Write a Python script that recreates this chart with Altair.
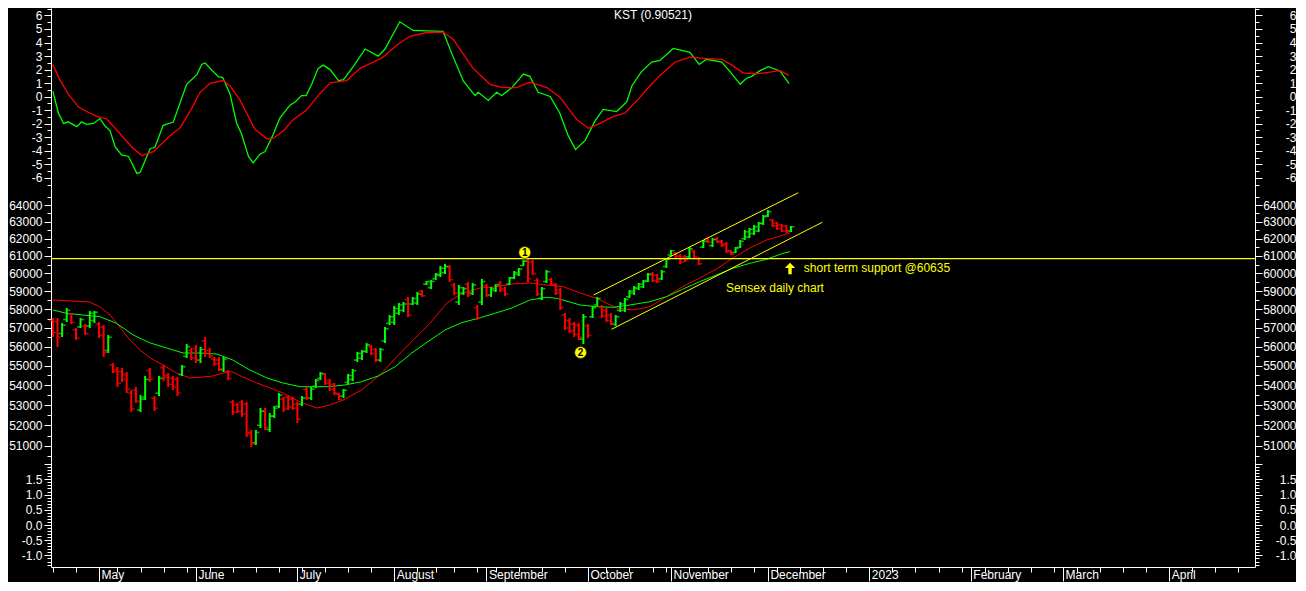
import altair as alt
import pandas as pd

# ------------------------------------------------------------------
# Data
# x = trading-day index (0 = 18 Apr 2022, 160 = 8 Dec 2022)
# ------------------------------------------------------------------
bar_open = [57400, 57350, 56700, 57450, 57750, 56900, 57050, 57100, 57100, 57400,
            57200, 57050, 55800, 55050, 54800, 54700, 54550, 53600, 53750, 52750,
            53400, 54750, 53350, 53600, 54900, 54500, 54350, 54300, 54550, 55500,
            55800, 55900, 55300, 56300, 55800, 55350, 55300, 54800, 54700, 53150,
            53000, 53150, 53050, 51650, 51150, 52000, 52700, 51800, 52450, 52950,
            53300, 53400, 53300, 53050, 53050, 53800, 53350, 53950, 54350, 54550,
            54250, 54050, 53550, 53450, 54150, 54300, 55300, 55400, 55750, 56000,
            55850, 55300, 56300, 57250, 57300, 57800, 57950, 58550, 58300, 58350,
            59000, 59400, 59200, 59700, 59900, 60050, 60350, 59350, 58400, 58900,
            59400, 58900, 58100, 58400, 59300, 58800, 59050, 59450, 59150, 59400,
            59750, 59950, 60450, 60700, 60650, 59600, 58600, 59550, 59650, 59350,
            59050, 57700, 57400, 57200, 57150, 56400, 57100, 57600, 58250, 58150,
            57950, 57700, 57200, 57950, 57950, 58700, 58900, 59150, 59250, 59600,
            59950, 59900, 59700, 60400, 61050, 61150, 61000, 60950, 60950, 61250,
            60850, 61500, 62000, 61600, 62000, 61850, 61700, 61300, 61200, 61500,
            62000, 62100, 62300, 62450, 62900, 63350, 63100, 62900, 62800, 62750,
            62450]
bar_high = [57535, 57535, 57264, 58080, 57806, 56995, 57535, 57210, 57915, 57915,
            57319, 57157, 56620, 55146, 54939, 54886, 54680, 53760, 53913, 53508,
            54474, 54886, 53457, 54474, 55042, 54628, 54474, 54423, 55042, 56142,
            55930, 56089, 55984, 56514, 55930, 55459, 55459, 55459, 54783, 53256,
            53106, 53256, 53156, 51772, 51772, 52856, 52856, 52608, 52956, 53609,
            53407, 53508, 53407, 53156, 53450, 53913, 53913, 54320, 54680, 54628,
            54320, 54116, 53609, 53811, 54577, 54835, 55721, 55826, 56195, 56089,
            55930, 55930, 57049, 57698, 58189, 58354, 58409, 58685, 58685, 58962,
            59073, 59577, 59633, 60028, 60425, 60538, 60482, 59464, 59352, 59241,
            59521, 59464, 58244, 59689, 59408, 59241, 59408, 59577, 59241, 59802,
            60141, 60311, 60767, 60824, 60767, 59746, 59241, 60197, 59746, 59464,
            59185, 57806, 57535, 57319, 57264, 57752, 57210, 58189, 58685, 58244,
            58080, 57806, 57698, 58409, 58630, 59073, 59297, 59464, 59633, 60028,
            60084, 59971, 60197, 60881, 61343, 61227, 61112, 61054, 61517, 61343,
            60940, 61923, 62040, 62040, 62099, 61923, 61807, 61343, 61517, 61923,
            62510, 62628, 62805, 62983, 63400, 63699, 63161, 62983, 62864, 62805,
            62746]
bar_low = [56514, 55984, 56514, 57319, 57210, 56354, 56995, 56620, 56995, 57264,
           56460, 55459, 55667, 54628, 53913, 54168, 53609, 52657, 53106, 52657,
           53256, 54168, 52707, 53457, 54218, 53913, 53760, 53457, 54474, 55406,
           55302, 55146, 55146, 55459, 55406, 54990, 54731, 54680, 54269, 52509,
           52608, 52410, 51431, 50949, 51045, 51870, 51772, 51674, 52360, 52856,
           52657, 52757, 52757, 52114, 52950, 53256, 53256, 53862, 54269, 54014,
           53710, 53508, 53256, 53357, 54065, 54218, 55198, 55302, 55667, 55563,
           55198, 55198, 56195, 57157, 57157, 57698, 57861, 57589, 58244, 58244,
           58685, 59352, 59129, 59633, 59802, 59971, 59521, 58796, 58244, 58796,
           58685, 58796, 57426, 58244, 58685, 58685, 58962, 58962, 58741, 59352,
           59689, 59858, 60425, 59521, 59914, 58741, 58519, 59464, 59352, 58796,
           57970, 56888, 56727, 56514, 56354, 56142, 56460, 57535, 58189, 57535,
           57319, 57157, 57103, 57861, 57861, 58630, 58796, 59073, 59185, 59521,
           59521, 59464, 59633, 60311, 60997, 60881, 60538, 60653, 60881, 60881,
           60482, 61459, 61749, 61517, 61749, 61517, 61169, 61054, 61169, 61459,
           61923, 62040, 62216, 62392, 62805, 63280, 62687, 62510, 62392, 62333,
           62392]
bar_close = [56750, 56500, 57150, 57950, 57300, 56450, 57450, 56700, 57800, 57850,
             56600, 55700, 56500, 54700, 54100, 54300, 53800, 52800, 53200, 53300,
             54300, 54300, 52850, 54350, 54400, 54050, 53900, 53600, 54950, 56000,
             55400, 55300, 55850, 55650, 55500, 55100, 54850, 55350, 54350, 52650,
             52700, 52550, 51600, 51100, 51650, 52700, 51900, 52450, 52850, 53500,
             52800, 52900, 52850, 52300, 53350, 53350, 53800, 54250, 54600, 54100,
             53800, 53600, 53300, 53750, 54500, 54750, 55650, 55750, 56100, 55650,
             55300, 55850, 56950, 57600, 58050, 58250, 58300, 57700, 58600, 58850,
             58750, 59550, 59550, 59950, 60300, 60400, 59650, 58900, 59200, 59150,
             58800, 59350, 57550, 59550, 58800, 59150, 59350, 59050, 58850, 59750,
             60050, 60250, 60700, 59700, 60000, 58850, 59150, 60100, 59400, 58900,
             58100, 57000, 56850, 56650, 56500, 57600, 56600, 58100, 58600, 57650,
             57400, 57250, 57600, 58300, 58550, 59000, 59200, 59400, 59550, 59950,
             59600, 59550, 60100, 60800, 61300, 60950, 60650, 60750, 61400, 60950,
             60550, 61850, 61800, 61950, 61800, 61600, 61250, 61100, 61450, 61850,
             62400, 62550, 62700, 62900, 63300, 63600, 62750, 62600, 62450, 62400,
             62700]

# fast moving average (red) and slow moving average (green)
ma_fast_idx = [0, 8.0, 10.2, 12.4, 13.8, 16.7, 18.9, 21.1, 23.9, 26.8,
               29.7, 32.5, 34.7, 36.9, 38.8, 41.2, 44.2, 47.1, 49.9, 53.6,
               57.2, 60.1, 62.9, 66.9, 70.9, 74.5, 78.1, 81.8, 85.4, 88.9,
               92.6, 96.2, 99.7, 103.4, 107.1, 110.6, 114.3, 118.2, 122.2, 125.8,
               129.4, 133.0, 136.5, 140.2, 143.9, 147.4, 151.1, 154.7, 158.3, 159.8]
ma_fast = [58519, 58409, 58135, 57698, 57264, 56354, 55826, 55406, 55042, 54628,
           54372, 54423, 54474, 54628, 54696, 54423, 54116, 53862, 53609, 53156,
           52856, 53006, 53256, 53760, 54526, 55459, 56354, 57264, 58354, 58907,
           59185, 59258, 59408, 59464, 59352, 59258, 58907, 58574, 58080, 57970,
           58152, 58702, 59258, 59745, 60254, 60881, 61459, 61923, 62216, 62333]
ma_slow_idx = [0, 3.0, 6.5, 10.2, 13.8, 17.4, 21.1, 24.7, 28.2, 31.9,
               35.5, 39.0, 42.7, 46.4, 49.9, 53.6, 59.6, 63.3, 66.9, 70.5,
               74.2, 77.8, 81.3, 85.0, 88.6, 92.2, 95.8, 99.5, 103.4, 107.1,
               109.2, 114.3, 117.9, 121.4, 125.1, 129.4, 133.0, 136.5, 140.2, 143.9,
               147.4, 151.1, 154.7, 158.3, 159.8]
ma_slow = [57970, 57790, 57698, 57606, 57248, 56620, 56195, 55930, 55667, 55667,
           55615, 55302, 54783, 54372, 54116, 53928, 53928, 54014, 54181, 54474,
           54954, 55667, 56264, 56888, 57280, 57519, 57790, 58080, 58519, 58668,
           58613, 58244, 58152, 58118, 58244, 58425, 58702, 59112, 59538, 59914,
           60292, 60577, 60806, 61152, 61244]

# KST (green) and its signal line (red)
kst_idx = [0, 1.2, 2.3, 3.3, 5.2, 6.2, 7.3, 8.8, 10.2, 11.3,
           12.4, 13.5, 14.9, 16.4, 18.2, 18.9, 21.1, 22.1, 23.9, 26.1,
           29.0, 31.2, 32.3, 33.0, 35.9, 36.8, 38.4, 39.8, 40.9, 42.4,
           43.4, 44.9, 46.0, 47.8, 49.2, 51.4, 52.5, 53.9, 54.9, 56.1,
           57.5, 58.6, 60.1, 61.9, 63.0, 65.1, 67.7, 70.5, 72.0, 75.2,
           78.1, 81.0, 84.6, 86.5, 89.0, 91.5, 92.2, 94.4, 96.2, 97.3,
           99.5, 102.0, 103.4, 105.2, 107.8, 109.9, 111.7, 113.3, 115.4, 117.5,
           119.3, 122.2, 124.4, 125.5, 127.6, 129.8, 131.6, 134.5, 138.1, 140.1,
           141.7, 145.0, 146.8, 149.0, 150.3, 151.5, 153.3, 155.1, 157.6, 159.6]
kst = [0.39, -1.22, -1.98, -1.86, -2.22, -1.86, -2.05, -1.98, -1.62, -2.17,
       -2.52, -3.71, -4.30, -4.42, -5.67, -5.60, -3.83, -3.76, -2.12, -1.88,
       0.91, 1.62, 2.40, 2.49, 1.46, 1.43, 0.20, -1.93, -2.76, -4.42,
       -4.89, -4.25, -4.06, -2.76, -1.58, -0.63, -0.39, 0.08, 0.08, 0.91,
       2.09, 2.33, 2.00, 1.19, 1.26, 2.21, 3.52, 2.99, 3.52, 5.53,
       4.89, 4.86, 4.82, 3.16, 1.14, 0.08, 0.32, -0.28, 0.32, 0.08,
       0.67, 1.67, 1.50, 0.32, 0.01, -1.22, -2.88, -3.90, -3.23, -1.81,
       -0.94, -1.10, -0.39, 0.79, 1.85, 2.56, 2.68, 3.56, 3.27, 2.38,
       2.76, 2.56, 1.85, 0.91, 1.34, 1.50, 1.92, 2.21, 1.90, 0.96]
kst_sig_idx = [0, 1.5, 3.3, 5.5, 7.3, 9.5, 11.7, 14.6, 17.4, 19.3,
               21.8, 25.4, 27.6, 30.1, 31.9, 34.1, 36.9, 38.4, 40.6, 43.8,
               46.4, 47.8, 50.0, 52.1, 55.0, 57.5, 60.1, 63.7, 66.6, 69.5,
               71.6, 74.5, 77.4, 81.0, 84.6, 86.8, 91.1, 94.8, 97.6, 100.5,
               103.4, 107.1, 109.9, 113.6, 116.1, 118.6, 121.5, 124.0, 127.3, 129.4,
               131.6, 134.9, 138.1, 141.7, 145.0, 147.2, 149.7, 152.6, 154.7, 157.6,
               159.6]
kst_sig = [2.38, 1.26, 0.20, -0.75, -1.10, -1.46, -1.65, -2.76, -3.83, -4.35,
           -4.06, -2.88, -2.29, -0.87, 0.32, 0.98, 1.19, 0.79, -0.28, -2.41,
           -3.12, -3.07, -2.52, -1.70, -0.99, 0.08, 1.02, 1.19, 2.09, 2.56,
           2.92, 3.80, 4.46, 4.74, 4.77, 4.23, 2.09, 0.91, 0.67, 0.67,
           1.07, 0.67, -0.04, -1.70, -2.34, -1.98, -1.46, -1.22, -0.04, 0.79,
           1.57, 2.56, 2.92, 2.81, 2.76, 2.33, 1.74, 1.69, 1.78, 1.92,
           1.57]

# annotations
support_level = [60850]
chan_upper_idx = [117.2, 161.6]
chan_upper = [58795, 64746]
chan_lower_idx = [121.1, 166.8]
chan_lower = [56925, 62965]
wave_idx = [102.3, 114.4]
wave_price = [61197, 55694]
wave_label = ["1", "2"]
arrow_idx = [159.8]
arrow_price = [60279]
note_idx = [162.8, 145.9]
note_price = [60311, 59185]
note_text = ["short term support @60635", "Sensex daily chart"]
kst_title = ["KST (0.90521)"]

# time axis
month_idx = [10, 31, 53, 74, 94, 116, 134, 155, 177, 199, 219, 242]
month_lbl = ["May", "June", "July", "August", "September", "October",
             "November", "December", "2023", "February", "March", "April"]
week_idx = [0, 5, 14, 19, 24, 29, 34, 39, 44, 49, 54, 59, 64, 69, 79, 83, 87,
            92, 96, 101, 106, 111, 120, 125, 130, 133, 138, 142, 147, 152, 157,
            162, 167, 172, 182, 187, 192, 197, 202, 207, 212, 217, 222, 227,
            232, 237, 247, 252, 257]

# axis tick values
price_ticks = list(range(50500, 65000, 500))
kst_ticks = [k / 2 for k in range(-13, 14)]
low_ticks = [round(-1.3 + 0.1 * k, 1) for k in range(34)]

# ------------------------------------------------------------------
FONT = "Liberation Sans"
WHITE = "#ffffff"
GREEN = "#00ff00"
RED = "#ff0000"
YELLOW = "#ffff00"

W = 1204
H_KST, H_PRICE, H_LOW = 180, 274, 105
xs = alt.Scale(domain=[-0.41, 260.6], nice=False, zero=False)
X = alt.X("idx:Q", scale=xs, axis=None)


def y_axis(orient, values, major_test, label_test, label_text):
    return alt.Axis(
        orient=orient, values=values, title=None, grid=False,
        domainColor=WHITE, domainWidth=1, tickColor=WHITE, tickWidth=1,
        tickSize={"condition": {"test": major_test, "value": 7}, "value": 4},
        labelExpr=f"{label_test} ? {label_text} : ''",
        labelFontSize={"condition": {"test": label_test, "value": 12}, "value": 0},
        labelColor=WHITE, labelFont=FONT,
        labelAlign="right", labelBaseline="middle",
        labelPadding=2 if orient == "left" else 34,
        labelOverlap=False, labelFlush=False, labelBound=False,
    )


# ---------------- KST panel ----------------
kst_scale = alt.Scale(domain=[-6.75, 6.55], nice=False, zero=False)
kst_major = "datum.value % 1 === 0"
kst_txt_expr = "'' + datum.value"

kst_line = alt.Chart(pd.DataFrame({"idx": kst_idx, "v": kst})).mark_line(
    color=GREEN, strokeWidth=1.3).encode(
    x=X, y=alt.Y("v:Q", scale=kst_scale,
                 axis=y_axis("left", kst_ticks, kst_major, kst_major, kst_txt_expr)))
sig_line = alt.Chart(pd.DataFrame({"idx": kst_sig_idx, "v": kst_sig})).mark_line(
    color=RED, strokeWidth=1.3).encode(
    x=X, y=alt.Y("v:Q", scale=kst_scale,
                 axis=y_axis("right", kst_ticks, kst_major, kst_major, kst_txt_expr)))
kst_txt = alt.Chart(pd.DataFrame({"idx": [130.1], "v": [6.05], "t": kst_title})).mark_text(
    color=WHITE, font=FONT, fontSize=12, align="center", baseline="middle").encode(
    x=X, y=alt.Y("v:Q", scale=kst_scale, axis=None), text="t:N")
kst_panel = alt.layer(kst_line, sig_line, kst_txt).properties(width=W, height=H_KST)

# ---------------- price panel ----------------
ps = alt.Scale(type="log", domain=[50233, 65034], nice=False)
p_major = "datum.value % 1000 === 0"
p_txt_expr = "'' + datum.value"

bars = pd.DataFrame({"idx": list(range(len(bar_open))), "open": bar_open,
                     "high": bar_high, "low": bar_low, "close": bar_close})
bars["col"] = [GREEN if c >= o else RED for o, c in zip(bar_open, bar_close)]

fast = alt.Chart(pd.DataFrame({"idx": ma_fast_idx, "p": ma_fast})).mark_line(
    color=RED, strokeWidth=1).encode(
    x=X, y=alt.Y("p:Q", scale=ps,
                 axis=y_axis("left", price_ticks, p_major, p_major, p_txt_expr)))
slow = alt.Chart(pd.DataFrame({"idx": ma_slow_idx, "p": ma_slow})).mark_line(
    color=GREEN, strokeWidth=1).encode(
    x=X, y=alt.Y("p:Q", scale=ps,
                 axis=y_axis("right", price_ticks, p_major, p_major, p_txt_expr)))
hl = alt.Chart(bars).mark_rule(strokeWidth=2).encode(
    x=X, y=alt.Y("low:Q", scale=ps, axis=None), y2="high:Q",
    color=alt.Color("col:N", scale=None))
op = alt.Chart(bars).mark_tick(orient="horizontal", size=3, thickness=1.6, xOffset=-2).encode(
    x=X, y=alt.Y("open:Q", scale=ps, axis=None), color=alt.Color("col:N", scale=None))
cl = alt.Chart(bars).mark_tick(orient="horizontal", size=3, thickness=1.6, xOffset=2).encode(
    x=X, y=alt.Y("close:Q", scale=ps, axis=None), color=alt.Color("col:N", scale=None))
support = alt.Chart(pd.DataFrame({"p": support_level})).mark_rule(
    color=YELLOW, strokeWidth=1.2).encode(y=alt.Y("p:Q", scale=ps, axis=None))
chan = alt.Chart(pd.DataFrame({
    "idx": chan_upper_idx + chan_lower_idx,
    "p": chan_upper + chan_lower,
    "ln": ["upper", "upper", "lower", "lower"]})).mark_line(
    color=YELLOW, strokeWidth=1).encode(
    x=X, y=alt.Y("p:Q", scale=ps, axis=None), detail="ln:N")
wave_df = pd.DataFrame({"idx": wave_idx, "p": wave_price, "t": wave_label})
wave_dot = alt.Chart(wave_df).mark_point(
    shape="circle", filled=True, size=140, color=YELLOW, stroke="#222200",
    strokeWidth=0.6, opacity=1).encode(x=X, y=alt.Y("p:Q", scale=ps, axis=None))
wave_txt = alt.Chart(wave_df).mark_text(
    color="black", font=FONT, fontSize=10, fontWeight="bold",
    align="center", baseline="middle", dy=0.5).encode(
    x=X, y=alt.Y("p:Q", scale=ps, axis=None), text="t:N")
arrow = alt.Chart(pd.DataFrame({"idx": arrow_idx, "p": arrow_price})).mark_point(
    shape="M0,-1L0.9,-0.1L0.3,-0.1L0.3,1L-0.3,1L-0.3,-0.1L-0.9,-0.1Z",
    filled=True, size=130, color=YELLOW, opacity=1).encode(
    x=X, y=alt.Y("p:Q", scale=ps, axis=None))
notes = alt.Chart(pd.DataFrame({"idx": note_idx, "p": note_price, "t": note_text})).mark_text(
    color=YELLOW, font=FONT, fontSize=12, align="left", baseline="middle").encode(
    x=X, y=alt.Y("p:Q", scale=ps, axis=None), text="t:N")

price_panel = alt.layer(fast, slow, hl, op, cl, support, chan, wave_dot, wave_txt,
                        arrow, notes).properties(width=W, height=H_PRICE)

# ---------------- empty lower panel + time axis ----------------
low_scale = alt.Scale(domain=[-1.38, 2.07], nice=False, zero=False)
low_major = "abs(datum.value * 2 - round(datum.value * 2)) < 0.001"
low_label = low_major + " && datum.value < 1.9"
low_txt_expr = "(datum.value < 0 ? '-' : '') + format(abs(datum.value), '.1f')"

m_arr = "[" + ",".join(str(v) for v in month_idx) + "]"
l_arr = "[" + ",".join("'" + s + "'" for s in month_lbl) + "]"
month_test = f"indexof({m_arr}, datum.value) >= 0"
x_lab = f"{month_test} ? {l_arr}[indexof({m_arr}, datum.value)] : ''"

x_axis = alt.Axis(
    orient="bottom", values=sorted(month_idx + week_idx), title=None, grid=False,
    domainColor=WHITE, domainWidth=1, tickColor=WHITE, tickWidth=1,
    tickSize={"condition": {"test": month_test, "value": 14}, "value": 5},
    labelExpr=x_lab,
    labelFontSize={"condition": {"test": month_test, "value": 12}, "value": 0},
    labelColor=WHITE, labelFont=FONT,
    labelAlign="left", labelBaseline="top", labelPadding=-12, labelOffset=2,
    labelOverlap=False, labelFlush=False, labelBound=False)
XB = alt.X("idx:Q", scale=xs, axis=x_axis)

carrier = pd.DataFrame({"idx": [0.0], "v": [0.0]})
low_left = alt.Chart(carrier).mark_point(opacity=0).encode(
    x=XB, y=alt.Y("v:Q", scale=low_scale,
                  axis=y_axis("left", low_ticks, low_major, low_label, low_txt_expr)))
low_right = alt.Chart(carrier).mark_point(opacity=0).encode(
    x=XB, y=alt.Y("v:Q", scale=low_scale,
                  axis=y_axis("right", low_ticks, low_major, low_label, low_txt_expr)))
low_panel = alt.layer(low_left, low_right).properties(width=W, height=H_LOW)

chart = alt.vconcat(kst_panel, price_panel, low_panel, spacing=0).properties(
    padding=0, background="black").configure_view(stroke=None)

chart.save("out.html", embed_options={"renderer": "svg", "actions": False})
